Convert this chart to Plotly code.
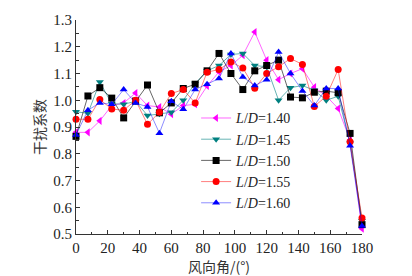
import plotly.graph_objects as go

angles = [0, 7.5, 15, 22.5, 30, 37.5, 45, 52.5, 60, 67.5, 75, 82.5, 90,
          97.5, 105, 112.5, 120, 127.5, 135, 142.5, 150, 157.5, 165, 172.5, 180]

ld140 = [0.88, 0.88, 0.923, 0.98, 0.99, 1.027, 0.98, 0.975, 0.948, 0.98, 0.985, 1.053, 1.106,
         1.13, 1.168, 1.255, 1.15, 1.077, 1.10, 1.118, 1.049, 1.016, 0.969, 0.851, 0.52]
ld145 = [0.957, 0.951, 1.068, 0.987, 0.985, 0.996, 0.943, 0.95, 0.955, 1.0, 1.063, 1.11, 1.13,
         1.171, 1.175, 1.13, 1.125, 1.0, 1.047, 1.055, 1.037, 1.0, 1.015, 0.839, 0.55]
ld150 = [0.865, 1.016, 1.047, 1.008, 0.934, 0.997, 1.057, 0.953, 0.99, 1.044, 1.06, 1.11, 1.175,
         1.10, 1.04, 1.11, 1.13, 1.15, 1.012, 1.009, 1.03, 1.034, 1.028, 0.876, 0.535]
ld155 = [0.929, 0.929, 1.003, 0.967, 0.963, 1.0, 0.91, 0.955, 1.025, 1.04, 0.99, 1.105, 1.115,
         1.143, 1.121, 1.045, 1.10, 1.125, 1.156, 1.134, 0.977, 1.015, 1.115, 0.845, 0.56]
ld160 = [0.87, 0.963, 0.99, 0.985, 1.04, 0.99, 0.975, 0.877, 0.996, 0.966, 1.04, 1.06, 1.081,
         1.175, 1.087, 1.055, 1.077, 1.18, 1.10, 1.035, 0.98, 1.044, 1.044, 0.83, 0.53]

series_names = ["<i>L</i>/<i>D</i>=1.40", "<i>L</i>/<i>D</i>=1.45", "<i>L</i>/<i>D</i>=1.50",
                "<i>L</i>/<i>D</i>=1.55", "<i>L</i>/<i>D</i>=1.60"]
series_values = [ld140, ld145, ld150, ld155, ld160]
marker_colors = ["#FF00FF", "#008080", "#000000", "#FF0000", "#0000FF"]
line_colors = ["rgba(255,0,255,0.6)", "rgba(0,128,128,0.6)", "rgba(0,0,0,0.6)",
               "rgba(255,0,0,0.5)", "rgba(0,0,255,0.45)"]
symbols = ["triangle-left", "triangle-down", "square", "circle", "triangle-up"]

fig = go.Figure()
for name, vals, mc, lc, sym in zip(series_names, series_values, marker_colors, line_colors, symbols):
    fig.add_trace(go.Scatter(
        x=angles, y=vals, name=name, mode="lines+markers",
        line=dict(color=lc, width=1),
        marker=dict(symbol=sym, color=mc, size=7, line=dict(width=0)),
        cliponaxis=False,
    ))

serif = "Liberation Serif, Times New Roman, serif"
cjk = "Noto Sans CJK SC"

fig.update_layout(
    width=404, height=268,
    margin=dict(l=68, r=50, t=12, b=42, autoexpand=False),
    paper_bgcolor="white", plot_bgcolor="white",
    font=dict(family=serif, size=15, color="#222"),
    showlegend=True,
    legend=dict(x=0.42, y=0.615, xanchor="left", yanchor="top",
                bgcolor="rgba(0,0,0,0)", font=dict(family=serif, size=14, color="#222"),
                itemwidth=30, tracegroupgap=0),
    xaxis=dict(range=[0, 180], tickmode="array", tickvals=list(range(0, 181, 20)),
               ticks="inside", ticklen=4, tickwidth=1, tickcolor="#333",
               showline=True, linecolor="#333", linewidth=1, showgrid=False, zeroline=False,
               minor=dict(ticks="inside", dtick=10, ticklen=2.5, tickcolor="#333"),
               tickfont=dict(family=serif, size=15, color="#222"),
               title=dict(text="风向角/(°)", font=dict(family=cjk, size=14, color="#333"), standoff=2)),
    yaxis=dict(range=[0.5, 1.3], tickmode="array", tickvals=[0.5, 0.6, 0.7, 0.8, 0.9, 1.0, 1.1, 1.2, 1.3],
               tickformat=".1f",
               ticks="inside", ticklen=4, tickwidth=1, tickcolor="#333",
               showline=True, linecolor="#333", linewidth=1, showgrid=False, zeroline=False,
               minor=dict(ticks="inside", dtick=0.05, ticklen=2.5, tickcolor="#333"),
               tickfont=dict(family=serif, size=15, color="#222"),
               title=dict(text="干扰系数", font=dict(family=cjk, size=14, color="#333"), standoff=4)),
)

fig.write_html("out.html")
